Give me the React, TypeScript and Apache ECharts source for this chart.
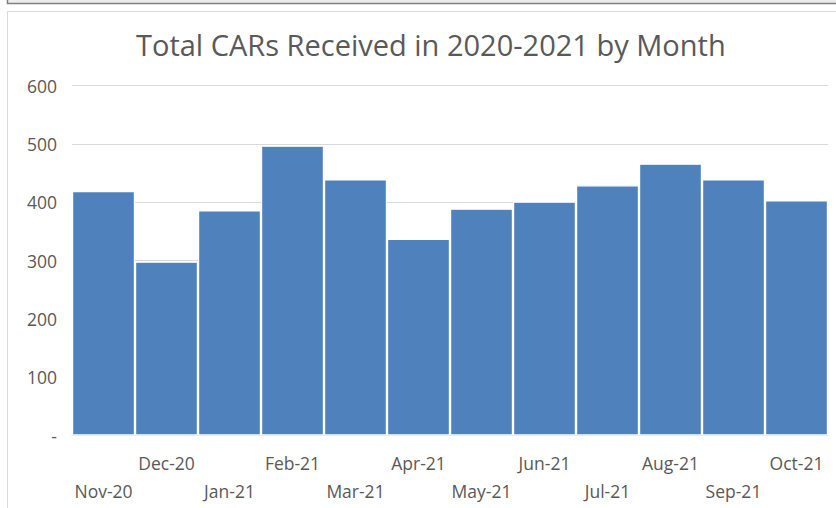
import React, { useEffect, useRef } from "react";
import * as echarts from "echarts";

const TITLE = "Total CARs Received in 2020-2021 by Month";
const MONTHS = ["Nov-20", "Dec-20", "Jan-21", "Feb-21", "Mar-21", "Apr-21", "May-21", "Jun-21", "Jul-21", "Aug-21", "Sep-21", "Oct-21"];
const CARS = [419, 298, 386, 497, 439, 337, 389, 401, 429, 466, 439, 403];
const Y_MIN = 0;
const Y_MAX = 600;
const Y_STEP = 100;

export default function App() {
  const ref = useRef<HTMLDivElement>(null);
  useEffect(() => {
    if (!ref.current) return;
    const chart = echarts.init(ref.current, null, { renderer: "svg" });
    const font = "'Open Sans', 'Noto Sans', sans-serif";
    chart.setOption({
      animation: false,
      backgroundColor: "#ffffff",
      title: {
        text: TITLE,
        left: 131,
        top: 25,
        textStyle: { fontFamily: font, fontSize: 29, fontWeight: "normal", color: "#595959" },
      },
      graphic: [
        {
          type: "rect",
          shape: { x: 7.5, y: -20, width: 840, height: 23.5 },
          style: { fill: "#ececec", stroke: "#808080", lineWidth: 1.5 },
          silent: true,
        },
        {
          type: "rect",
          shape: { x: 7.5, y: 11.5, width: 840, height: 520 },
          style: { fill: "none", stroke: "#d9d9d9", lineWidth: 1 },
          silent: true,
        },
      ],
      grid: { left: 72, right: 8, top: 85.5, bottom: 72.5, containLabel: false },
      xAxis: {
        type: "category",
        data: MONTHS,
        axisLine: { show: true, lineStyle: { color: "#d9d9d9", width: 1 } },
        axisTick: { show: false },
        axisLabel: {
          interval: 0,
          margin: 13,
          fontFamily: font,
          fontSize: 17.5,
          color: "#595959",
          lineHeight: 28,
          formatter: (v: string, i: number) => (i % 2 === 0 ? "\n" + v : v),
        },
      },
      yAxis: {
        type: "value",
        min: Y_MIN,
        max: Y_MAX,
        interval: Y_STEP,
        axisLine: { show: false },
        axisTick: { show: false },
        splitLine: { lineStyle: { color: "#d9d9d9", width: 1 } },
        axisLabel: {
          margin: 15,
          fontFamily: font,
          fontSize: 17.5,
          color: "#595959",
          formatter: (v: number) => (v === 0 ? "-" : String(v)),
        },
      },
      series: [
        {
          type: "bar",
          data: CARS,
          barCategoryGap: "0%",
          itemStyle: { color: "#4f81bd", borderColor: "#ffffff", borderWidth: 1.2 },
        },
      ],
    });
    return () => chart.dispose();
  }, []);
  return (
    <div
      ref={ref}
      style={{ position: "absolute", left: 0, top: 0, width: 836, height: 508 }}
    />
  );
}
